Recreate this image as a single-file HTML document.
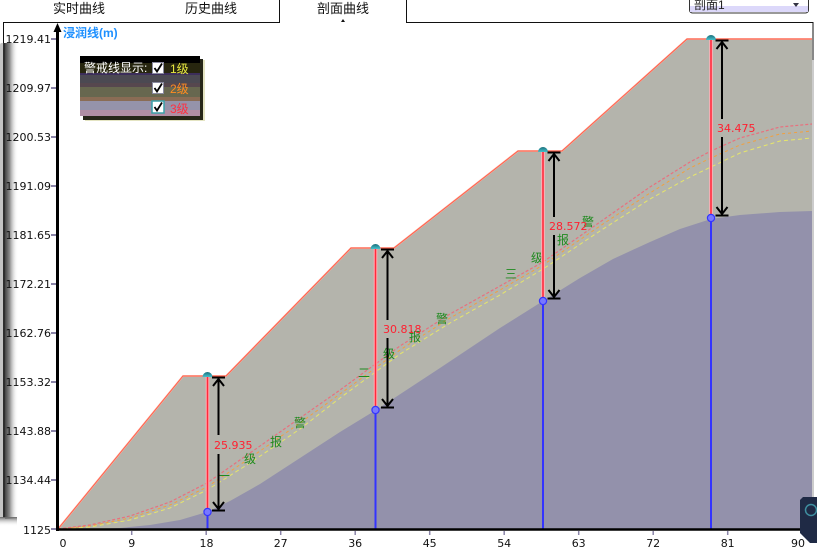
<!DOCTYPE html>
<html><head><meta charset="utf-8"><style>
html,body{margin:0;padding:0;background:#fff;}
body{width:817px;height:556px;overflow:hidden;position:relative;}
svg{position:absolute;left:0;top:0;}
.cj{font-family:"Liberation Sans","Noto Sans CJK SC",sans-serif;}
.nm{font-family:"DejaVu Sans","Liberation Sans",sans-serif;font-size:11px;}
</style></head><body>
<svg width="817" height="556" viewBox="0 0 817 556" xmlns="http://www.w3.org/2000/svg">
<defs>
<linearGradient id="lsh" x1="0" y1="0" x2="1" y2="0">
<stop offset="0" stop-color="#444"/><stop offset="0.35" stop-color="#8a8a8a"/><stop offset="1" stop-color="#fff" stop-opacity="0"/>
</linearGradient>
<linearGradient id="bsh" x1="0" y1="0" x2="0" y2="1">
<stop offset="0" stop-color="#666"/><stop offset="1" stop-color="#fff" stop-opacity="0"/>
</linearGradient>
<linearGradient id="dome" x1="0" y1="0" x2="0" y2="1">
<stop offset="0" stop-color="#1a6e7a"/><stop offset="1" stop-color="#44c0cc"/>
</linearGradient>
</defs>

<!-- tabs -->
<g class="cj" font-size="13" fill="#111">
<text x="53" y="13">实时曲线</text>
<text x="185" y="13">历史曲线</text>
<text x="317" y="13">剖面曲线</text>
</g>
<polygon points="341,22 343,19 345,22" fill="#111"/>
<line x1="3" y1="22.5" x2="280" y2="22.5" stroke="#111"/>
<line x1="279.5" y1="0" x2="279.5" y2="22" stroke="#111"/>
<line x1="406.5" y1="0" x2="406.5" y2="22" stroke="#111"/>
<line x1="406" y1="22.5" x2="813" y2="22.5" stroke="#111"/>
<line x1="3.5" y1="22" x2="3.5" y2="44" stroke="#111"/>
<line x1="813" y1="22" x2="813" y2="60" stroke="#111"/>
<line x1="813" y1="60" x2="813" y2="500" stroke="#9a9a9a"/>

<!-- dropdown -->
<rect x="689.5" y="-5" width="119" height="18" rx="3" fill="#fff" stroke="#333"/>
<rect x="690" y="6" width="118" height="6" fill="#dcd8fa"/>
<text x="694" y="9" class="cj" font-size="12" fill="#222">剖面1</text>
<polygon points="793,3 799,3 796,7" fill="#334"/>

<!-- left shadow panel -->
<rect x="0" y="43" width="4" height="475" rx="2" fill="#c4c4c4"/>
<rect x="3" y="43" width="2" height="475" fill="#2e2e2e"/>
<rect x="5" y="43" width="13" height="476" fill="url(#lsh)"/>
<rect x="0" y="517" width="17" height="9" fill="url(#bsh)"/>

<!-- plot fills -->
<polygon points="58,529 183,376 226,376 351,248 394,248 518,151 562,151 687,39 812,39 812,529" fill="#b4b4ac"/>
<polygon points="58,529 90,529 120,528 150,525 180,520 207,512 230,501 260,484 300,458 340,432 376,410 440,368 500,328 543,301 580,278 613,259 650,242 680,229 711,219 740,215 780,212 812,211 812,529" fill="#9391ab"/>
<polyline points="58,529 183,376 226,376 351,248 394,248 518,151 562,151 687,39 812,39" fill="none" stroke="#ffb0a0" stroke-width="1.8"/>
<polyline points="58,529 183,376 226,376 351,248 394,248 518,151 562,151 687,39 812,39" fill="none" stroke="#ff5e4a" stroke-width="0.9"/>

<!-- phreatic dashed lines -->
<polyline points="58,529 90,527 130,520 170,508 207,490 250,463 300,429 340,398 400,354 450,323 500,295 543,269 600,231 650,199 690,177 711,167 740,153 780,141 812,138" fill="none" stroke="#e6e66a" stroke-width="1" stroke-dasharray="4,3"/>
<polyline points="58,529 90,526 130,518 170,505 207,487 250,458 300,423 340,394 400,350 450,318 500,290 543,265 600,226 650,193 690,168 711,158 740,145 780,134 812,131" fill="none" stroke="#f0a040" stroke-width="1" stroke-dasharray="3,3"/>
<polyline points="58,529 90,525 130,516 170,502 207,483 250,453 300,418 340,390 400,346 450,314 500,286 543,262 600,222 650,187 690,162 711,151 740,138 780,127 812,124" fill="none" stroke="#e8707e" stroke-width="1.2" stroke-dasharray="3,2"/>

<!-- warning labels -->
<g class="cj" font-size="12" fill="#1f8a1f" text-anchor="middle">
<text x="224" y="480">一</text><text x="250" y="463">级</text><text x="276" y="446">报</text><text x="300" y="427">警</text>
<text x="364" y="377">二</text><text x="389" y="358">级</text><text x="415" y="341">报</text><text x="442" y="323">警</text>
<text x="511" y="278">三</text><text x="537" y="262">级</text><text x="563" y="244">报</text><text x="588" y="226">警</text>
</g>

<!-- piezometers -->
<g>
<line x1="207.5" y1="377" x2="207.5" y2="512" stroke="#ffb0b6" stroke-width="3.6"/>
<line x1="207.5" y1="377" x2="207.5" y2="512" stroke="#ff2a3c" stroke-width="1.6"/>
<line x1="207.5" y1="512" x2="207.5" y2="529" stroke="#3333ff" stroke-width="2"/>
<circle cx="207.5" cy="512" r="3.6" fill="#7878ff" stroke="#3535ff" stroke-width="1.2"/>
<path d="M202.5,377 A5,5 0 0 1 212.5,377 Z" fill="url(#dome)"/>

<line x1="375.5" y1="249" x2="375.5" y2="410" stroke="#ffb0b6" stroke-width="3.6"/>
<line x1="375.5" y1="249" x2="375.5" y2="410" stroke="#ff2a3c" stroke-width="1.6"/>
<line x1="375.5" y1="410" x2="375.5" y2="529" stroke="#3333ff" stroke-width="2"/>
<circle cx="375.5" cy="410" r="3.6" fill="#7878ff" stroke="#3535ff" stroke-width="1.2"/>
<path d="M370.5,249 A5,5 0 0 1 380.5,249 Z" fill="url(#dome)"/>

<line x1="543" y1="152" x2="543" y2="301" stroke="#ffb0b6" stroke-width="3.6"/>
<line x1="543" y1="152" x2="543" y2="301" stroke="#ff2a3c" stroke-width="1.6"/>
<line x1="543" y1="301" x2="543" y2="529" stroke="#3333ff" stroke-width="2"/>
<circle cx="543" cy="301" r="3.6" fill="#7878ff" stroke="#3535ff" stroke-width="1.2"/>
<path d="M538,152 A5,5 0 0 1 548,152 Z" fill="url(#dome)"/>

<line x1="711" y1="40" x2="711" y2="218" stroke="#ffb0b6" stroke-width="3.6"/>
<line x1="711" y1="40" x2="711" y2="218" stroke="#ff2a3c" stroke-width="1.6"/>
<line x1="711" y1="218" x2="711" y2="529" stroke="#3333ff" stroke-width="2"/>
<circle cx="711" cy="218" r="3.6" fill="#7878ff" stroke="#3535ff" stroke-width="1.2"/>
<path d="M706,40 A5,5 0 0 1 716,40 Z" fill="url(#dome)"/>
</g>

<!-- dimension arrows -->
<g stroke="#000" stroke-width="2" fill="none">
<line x1="212" y1="377.5" x2="225" y2="377.5"/><polyline points="213,386 218.5,379 224,386"/>
<line x1="218.5" y1="378" x2="218.5" y2="435"/><line x1="218.5" y1="454" x2="218.5" y2="510"/>
<polyline points="213,502 218.5,509 224,502"/><line x1="212" y1="510.5" x2="225" y2="510.5"/>

<line x1="381" y1="249.5" x2="394" y2="249.5"/><polyline points="382,258 387.5,251 393,258"/>
<line x1="387.5" y1="250" x2="387.5" y2="320"/><line x1="387.5" y1="338" x2="387.5" y2="407"/>
<polyline points="382,399 387.5,406 393,399"/><line x1="381" y1="407.5" x2="394" y2="407.5"/>

<line x1="547.5" y1="152.5" x2="560.5" y2="152.5"/><polyline points="548.5,161 554,154 559.5,161"/>
<line x1="554" y1="153" x2="554" y2="217"/><line x1="554" y1="235" x2="554" y2="298"/>
<polyline points="548.5,290 554,297 559.5,290"/><line x1="547.5" y1="298.5" x2="560.5" y2="298.5"/>

<line x1="715.5" y1="40.5" x2="728.5" y2="40.5"/><polyline points="716.5,49 722,42 727.5,49"/>
<line x1="722" y1="41" x2="722" y2="119"/><line x1="722" y1="137" x2="722" y2="215"/>
<polyline points="716.5,207 722,214 727.5,207"/><line x1="715.5" y1="215.5" x2="728.5" y2="215.5"/>
</g>
<g class="nm" fill="#ff2030">
<text x="214" y="449">25.935</text>
<text x="383" y="333">30.818</text>
<text x="549" y="230">28.572</text>
<text x="717" y="132">34.475</text>
</g>

<!-- axes -->
<line x1="57.5" y1="29" x2="57.5" y2="531" stroke="#000" stroke-width="3"/>
<polygon points="57.5,23 53.5,32 61.5,32" fill="#000"/>
<line x1="56" y1="529.5" x2="813" y2="529.5" stroke="#000" stroke-width="2.6"/>
<text x="63" y="37" class="cj" font-size="12" font-weight="bold" fill="#1e90ff">浸润线(m)</text>

<g stroke="#8a84a8" stroke-width="2">
<line x1="51" y1="39" x2="56" y2="39"/><line x1="51" y1="88" x2="56" y2="88"/><line x1="51" y1="137" x2="56" y2="137"/>
<line x1="51" y1="186" x2="56" y2="186"/><line x1="51" y1="235" x2="56" y2="235"/><line x1="51" y1="284" x2="56" y2="284"/>
<line x1="51" y1="333" x2="56" y2="333"/><line x1="51" y1="382" x2="56" y2="382"/><line x1="51" y1="431" x2="56" y2="431"/>
<line x1="51" y1="480" x2="56" y2="480"/><line x1="51" y1="529" x2="56" y2="529"/>
</g>
<g class="nm" fill="#111" text-anchor="end">
<text x="51" y="43">1219.41</text><text x="51" y="92">1209.97</text><text x="51" y="141">1200.53</text>
<text x="51" y="190">1191.09</text><text x="51" y="239">1181.65</text><text x="51" y="288">1172.21</text>
<text x="51" y="337">1162.76</text><text x="51" y="386">1153.32</text><text x="51" y="435">1143.88</text>
<text x="51" y="484">1134.44</text><text x="51" y="534">1125</text>
</g>
<g stroke="#8a84a8" stroke-width="1.5">
<line x1="131.7" y1="531" x2="131.7" y2="535"/><line x1="206.2" y1="531" x2="206.2" y2="535"/><line x1="280.7" y1="531" x2="280.7" y2="535"/>
<line x1="355.2" y1="531" x2="355.2" y2="535"/><line x1="429.7" y1="531" x2="429.7" y2="535"/><line x1="504.2" y1="531" x2="504.2" y2="535"/>
<line x1="578.7" y1="531" x2="578.7" y2="535"/><line x1="653.2" y1="531" x2="653.2" y2="535"/><line x1="727.7" y1="531" x2="727.7" y2="535"/>
</g>
<g class="nm" fill="#111" text-anchor="middle">
<text x="63" y="547">0</text><text x="131.7" y="547">9</text><text x="206.5" y="547">18</text>
<text x="280.7" y="547">27</text><text x="355.2" y="547">36</text><text x="429.7" y="547">45</text>
<text x="504.2" y="547">54</text><text x="578.7" y="547">63</text><text x="653.2" y="547">72</text>
<text x="727.7" y="547">81</text><text x="798" y="547">90</text>
</g>

<!-- legend -->
<rect x="85" y="60" width="120" height="61" fill="#d8d8a8" opacity="0.7"/>
<rect x="83" y="59" width="120" height="61" fill="#262618"/>
<rect x="80" y="56" width="120" height="7" fill="#000"/>
<rect x="80" y="63" width="120" height="10" fill="#27260f"/>
<rect x="80" y="73" width="120" height="2" fill="#3c2e5a"/>
<rect x="80" y="75" width="120" height="8" fill="#4b4952"/>
<rect x="80" y="83" width="120" height="4" fill="#56474e"/>
<rect x="80" y="87" width="120" height="10" fill="#67674f"/>
<rect x="80" y="97" width="120" height="4" fill="#8a6c55"/>
<rect x="80" y="101" width="120" height="9" fill="#9593aa"/>
<rect x="80" y="110" width="120" height="6" fill="#b08ea4"/>
<text x="84" y="72" class="cj" font-size="12" fill="#fff">警戒线显示:</text>
<g>
<rect x="152.5" y="62.5" width="11" height="11" fill="#fff" stroke="#8a8aa0"/>
<rect x="152.5" y="82.5" width="11" height="11" fill="#fff" stroke="#8a8aa0"/>
<rect x="152" y="101" width="12" height="12" fill="#fff" stroke="#3aa0a8" stroke-width="1.5"/>
<polyline points="154.5,68 157,71.5 162,63.5" fill="none" stroke="#000" stroke-width="1.8"/>
<polyline points="154.5,88 157,91.5 162,83.5" fill="none" stroke="#000" stroke-width="1.8"/>
<polyline points="154.5,107 157,110.5 162,102.5" fill="none" stroke="#000" stroke-width="1.8"/>
</g>
<g class="cj" font-size="12">
<text x="170" y="73" fill="#e8e840">1级</text>
<text x="170" y="93" fill="#ff8c20">2级</text>
<text x="170" y="113" fill="#ff3040">3级</text>
</g>

<!-- corner icon -->
<path d="M803,497 L817,497 L817,543 L810,543 L800,533 L800,500 Z" fill="#1f2a45"/>
<circle cx="811" cy="510" r="5.5" fill="none" stroke="#3f8fa0" stroke-width="1.5"/>
</svg>
</body></html>
